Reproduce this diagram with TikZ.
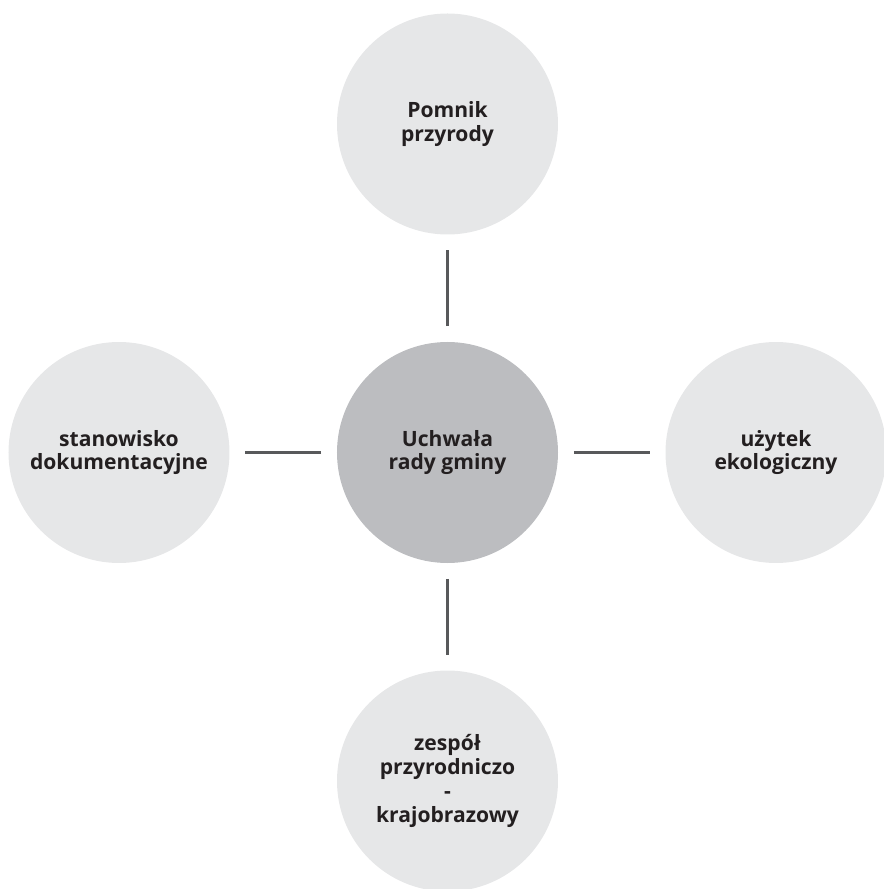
\documentclass[tikz,border=0pt]{standalone}
\usepackage{fontspec}
\setmainfont{Open Sans}
\definecolor{outergray}{HTML}{E6E7E8}
\definecolor{centergray}{HTML}{BCBDC0}
\definecolor{linegray}{HTML}{58595B}
\definecolor{textgray}{HTML}{231F20}
\begin{document}
\begin{tikzpicture}[
	topic/.style={circle,fill=outergray,minimum size=4.42cm,inner sep=0pt,align=center,
		font=\fontsize{12}{13.6}\selectfont\bfseries,text=textgray},
	edge/.style={-,draw=linegray,line width=1.7pt,shorten <=0.31cm,shorten >=0.31cm}
	]
	\def\dist{6.57}
	\useasboundingbox (-8.95,9.05) rectangle (8.71,-8.73);
	
	\node[topic,fill=centergray] (uchwala) at (0,0) {Uchwała\\rady gminy};
	\node[topic] (pomnik) at (0,\dist) {Pomnik\\przyrody};
	\node[topic] (stanowisko) at (-\dist,0) {stanowisko\\dokumentacyjne};
	\node[topic] (uzytek) at (\dist,0) {użytek\\ekologiczny};
	\node[topic] (zespol) at (0,-\dist) {zespół\\przyrodniczo\\-\\krajobrazowy};
	
	\draw[edge] (uchwala) -- (pomnik);
	\draw[edge] (uchwala) -- (stanowisko);
	\draw[edge] (uchwala) -- (uzytek);
	\draw[edge] (uchwala) -- (zespol);
\end{tikzpicture}
\end{document}
